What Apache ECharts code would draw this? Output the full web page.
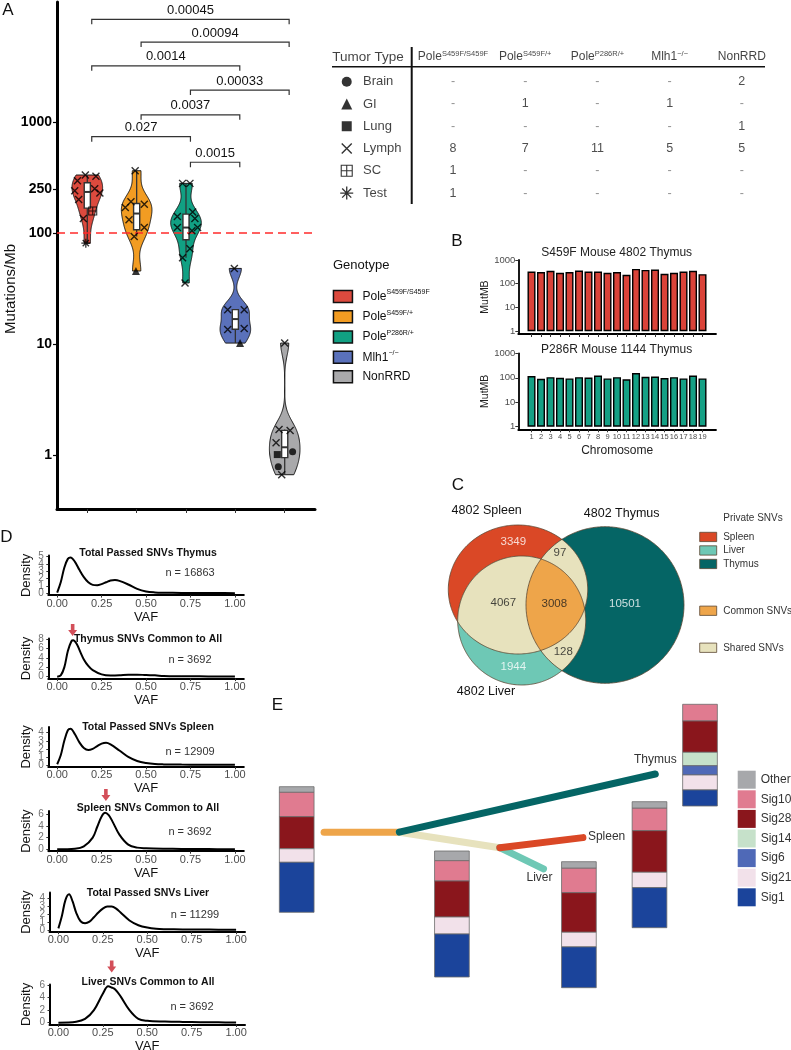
<!DOCTYPE html>
<html>
<head>
<meta charset="utf-8">
<script src="https://cdn.jsdelivr.net/npm/echarts@6/dist/echarts.min.js"></script>
<style>
html,body{margin:0;padding:0;background:#fff;}
#chart{width:791px;height:1050px;}
</style>
</head>
<body>
<div id="chart"></div>
<script>
// ================= DATA =================
// ---- Panel A: mutations per Mb by genotype ----
const genotypes = ['PoleS459F/S459F', 'PoleS459F/+', 'PoleP286R/+', 'Mlh1-/-', 'NonRRD'];
const tumorTypes = ['Brain', 'GI', 'Lung', 'Lymph', 'SC', 'Test'];
const mutPoleSS   = [333, 324, 295, 240, 251, 200, 229, 135, 158, 81];
const typePoleSS  = ['Lymph','Lymph','Lymph','Lymph','Lymph','Lymph','Lymph','Lymph','SC','Test'];
const jitPoleSS   = [-0.04, 0.175, -0.2, -0.255, 0.15, -0.175, 0.255, -0.08, 0.11, -0.03];
const mutPoleSp   = [364, 170, 191, 182, 132, 112, 93, 45.5];
const typePoleSp  = ['Lymph','Lymph','Lymph','Lymph','Lymph','Lymph','Lymph','GI'];
const jitPoleSp   = [-0.03, -0.23, -0.115, 0.155, -0.155, 0.155, -0.05, -0.015];
const mutPolePR   = [280, 280, 141, 155, 135, 112, 112, 105, 72, 60, 35.5];
const typePolePR  = ['Lymph','Lymph','Lymph','Lymph','Lymph','Lymph','Lymph','Lymph','Lymph','Lymph','Lymph'];
const jitPolePR   = [-0.07, 0.08, -0.175, 0.135, 0.18, -0.175, 0.235, 0.12, 0.08, -0.07, -0.02];
const mutMlh1     = [48, 20.4, 20.4, 13.5, 13.8, 10.2];
const typeMlh1    = ['Lymph','Lymph','Lymph','Lymph','Lymph','GI'];
const jitMlh1     = [-0.02, -0.155, 0.18, -0.155, 0.18, 0.095];
const mutNonRRD   = [10.2, 1.70, 1.66, 1.29, 0.665, 1.07, 0.785, 1.01];
const typeNonRRD  = ['Lymph','Lymph','Lymph','Lymph','Lymph','Brain','Brain','Lung'];
const jitNonRRD   = [0, -0.115, 0.11, -0.175, -0.06, 0.16, -0.13, -0.15];
const yTicksA = [1, 10, 100, 250, 1000];
const thresholdA = 100;
const sigPairs   = [[1,5],[2,5],[1,4],[3,5],[2,4],[1,3],[3,4]];
const sigPValues = ['0.00045','0.00094','0.0014','0.00033','0.0037','0.027','0.0015'];
const sigLevels  = [8410, 5250, 3210, 1940, 1160, 738, 434]; // Mutations/Mb height of each bracket

// ---- Tumor type table ----
const tableRows = ['Brain','GI','Lung','Lymph','SC','Test'];
const tableCounts = [
  ['-','-','-','-','2'],
  ['-','1','-','1','-'],
  ['-','-','-','-','1'],
  ['8','7','11','5','5'],
  ['1','-','-','-','-'],
  ['1','-','-','-','-']
];

// ---- Panel B: per-chromosome MutMB ----
const chromosomes = ['1','2','3','4','5','6','7','8','9','10','11','12','13','14','15','16','17','18','19'];
const mutS459F = [326, 309, 348, 287, 309, 359, 326, 326, 287, 309, 237, 422, 383, 395, 261, 287, 326, 348, 253];
const mutP286R = [117, 91, 106, 100, 94, 106, 102, 124, 94, 106, 86, 155, 110, 112, 98, 106, 94, 124, 94];
const yTicksB = [1, 10, 100, 1000];

// ---- Panel C: Venn counts ----
const vennRegionNames  = ['Spleen only','Spleen+Thymus','Spleen+Liver','All three','Thymus only','Liver+Thymus','Liver only'];
const vennRegionCounts = [3349, 97, 4067, 3008, 10501, 128, 1944];

// ---- Panel D: VAF densities ----
const densTitles = ['Total Passed SNVs Thymus','Thymus SNVs Common to All','Total Passed SNVs Spleen','Spleen SNVs Common to All','Total Passed SNVs Liver','Liver SNVs Common to All'];
const densN = [16863, 3692, 12909, 3692, 11299, 3692];
const vafThymusTot = [0,0.02,0.04,0.06,0.075,0.1,0.125,0.15,0.175,0.2,0.225,0.25,0.275,0.3,0.325,0.35,0.4,0.45,0.5,0.55,0.6,0.7,0.8,0.9,1.0];
const denThymusTot = [0.1,1.5,3.5,4.7,4.9,4.3,3.2,2.2,1.5,1.15,1.1,1.25,1.5,1.75,1.8,1.7,1.2,0.6,0.25,0.12,0.08,0.05,0.04,0.03,0.02];
const vafThymusCom = [0,0.02,0.04,0.06,0.08,0.09,0.11,0.13,0.15,0.175,0.2,0.25,0.3,0.35,0.4,0.45,0.5,0.55,0.6,0.7,0.8,0.9,1.0];
const denThymusCom = [0,0.3,2.0,5.5,7.6,7.8,7.0,5.3,3.7,2.3,1.4,0.5,0.25,0.3,0.45,0.45,0.35,0.3,0.15,0.1,0.08,0.06,0.04];
const vafSpleenTot = [0,0.02,0.04,0.06,0.075,0.1,0.125,0.15,0.175,0.2,0.225,0.25,0.275,0.3,0.35,0.4,0.45,0.5,0.55,0.6,0.7,0.8,0.9,1.0];
const denSpleenTot = [0.1,1.2,3.0,4.3,4.5,3.8,2.8,2.1,1.85,2.0,2.35,2.65,2.75,2.55,1.8,1.0,0.5,0.25,0.12,0.08,0.05,0.04,0.03,0.02];
const vafSpleenCom = [0,0.1,0.15,0.2,0.225,0.25,0.27,0.29,0.31,0.35,0.4,0.45,0.5,0.6,0.7,0.8,0.9,1.0];
const denSpleenCom = [0,0.1,0.5,2.0,3.8,5.6,6.2,5.8,4.8,2.5,0.8,0.3,0.2,0.12,0.08,0.05,0.04,0.02];
const vafLiverTot = [0,0.02,0.04,0.06,0.08,0.1,0.125,0.15,0.175,0.2,0.225,0.25,0.275,0.3,0.325,0.35,0.4,0.45,0.5,0.55,0.6,0.7,0.8,0.9,1.0];
const denLiverTot = [0.2,1.8,3.8,4.5,3.6,2.2,1.1,0.85,1.05,1.6,2.2,2.7,2.95,2.95,2.7,2.2,1.2,0.6,0.3,0.15,0.1,0.06,0.05,0.04,0.02];
const vafLiverCom = [0,0.1,0.15,0.2,0.25,0.28,0.3,0.32,0.35,0.4,0.45,0.5,0.6,0.7,0.8,0.9,1.0];
const denLiverCom = [0,0.15,0.6,2.0,4.6,5.8,5.6,5.3,4.2,2.0,0.6,0.3,0.18,0.12,0.08,0.05,0.02];
const densYTicks = [[0,1,2,3,4,5],[0,2,4,6,8],[0,1,2,3,4],[0,2,4,6],[0,1,2,3,4],[0,2,4,6]];
const commonPeakVAF = [null, 0.087, null, 0.274, null, 0.30];

// ---- Panel E: phylogeny + signatures ----
const branchNames  = ['Common','Thymus','Shared','Spleen','Liver'];
const branchParent = [-1, 0, 0, 2, 2];
const branchSNVs   = [3008, 10501, 4067, 3349, 1944];
const branchAngle  = [0, -12.8, 8.75, -6.9, 25.9];   // degrees, drawing angle
const sigNames = ['Other','Sig10','Sig28','Sig14','Sig6','Sig21','Sig1'];
const sigOther = [0.045, 0.077, 0.052, 0.052, 0];
const sig10    = [0.194, 0.161, 0.194, 0.178, 0.164];
const sig28    = [0.255, 0.286, 0.314, 0.330, 0.308];
const sig14    = [0, 0, 0, 0, 0.132];
const sig6     = [0, 0, 0, 0, 0.091];
const sig21    = [0.108, 0.135, 0.116, 0.122, 0.147];
const sig1     = [0.398, 0.341, 0.324, 0.318, 0.158];

// ================= STYLE / LAYOUT =================
const FONT = '"Liberation Sans", Arial, Helvetica, sans-serif';
const genoColors = ['#DC4A3E', '#F29C22', '#11A083', '#5A71BB', '#A9A9AB'];
const vennColors = {Spleen:'#DA4826', Liver:'#6EC8B5', Thymus:'#056565', Shared:'#E7E2BD', Common:'#EEA54A'};
const sigColors = ['#A7A8AB', '#E07B90', '#8A161C', '#C6E1CA', '#4F69B7', '#F2E1EA', '#1B449B'];
const branchColors = ['#EEA54A', '#056565', '#E7E2BD', '#DA4826', '#6EC8B5'];

const grids = [], xAxes = [], yAxes = [], series = [], legends = [], graphics = [];
function addGrid(g, xa, ya) {
  grids.push(Object.assign({show:false, containLabel:false, outerBoundsMode:'none'}, g));
  const i = grids.length - 1;
  xAxes.push(Object.assign({gridIndex:i, splitLine:{show:false}, splitArea:{show:false}}, xa));
  yAxes.push(Object.assign({gridIndex:i, splitLine:{show:false}, splitArea:{show:false}}, ya));
  return i;
}
function hiddenAxis(min, max, inverse) { return {type:'value', show:false, min, max, inverse:!!inverse}; }
function txt(x, y, text, size, o) {
  o = o || {};
  const al = o.align || 'center';
  return {type:'text', x, y, rotation:o.rot || 0, silent:true, z:50,
    style:{text, font:(o.bold ? 'bold ' : '') + size + 'px ' + FONT, fill:o.color || '#111',
      align:al, textAlign:al, verticalAlign:'middle', textVerticalAlign:'middle'}};
}
function genoRich(n) {
  if (n.indexOf('Pole') === 0) return '{b|Pole}{s|' + n.slice(4) + '}';
  if (n.indexOf('Mlh1') === 0) return '{b|Mlh1}{s|' + n.slice(4).replace(/-/g, '\u2212') + '}';
  return '{b|' + n + '}';
}
const L10 = v => Math.log10(v);

// symbols for tumor types
const SYM = {
  Brain:{symbol:'circle', size:7, style:{color:'#000'}},
  GI:{symbol:'triangle', size:8, style:{color:'#000'}},
  Lung:{symbol:'rect', size:7, style:{color:'#000'}},
  Lymph:{symbol:'path://M0,0L10,10M10,0L0,10', size:7, style:{color:'rgba(0,0,0,0)', borderColor:'#000', borderWidth:1.4}},
  SC:{symbol:'path://M0,0L10,0L10,10L0,10ZM5,0L5,10M0,5L10,5', size:8, style:{color:'rgba(0,0,0,0)', borderColor:'#000', borderWidth:1.1}},
  Test:{symbol:'path://M5,0L5,10M0,5L10,5M1.5,1.5L8.5,8.5M8.5,1.5L1.5,8.5', size:9, style:{color:'rgba(0,0,0,0)', borderColor:'#000', borderWidth:1.3}}
};

// ================= PANEL A =================
const mutAll = [mutPoleSS, mutPoleSp, mutPolePR, mutMlh1, mutNonRRD];
const typeAll = [typePoleSS, typePoleSp, typePolePR, typeMlh1, typeNonRRD];
const jitAll = [jitPoleSS, jitPoleSp, jitPolePR, jitMlh1, jitNonRRD];

function violinStats(values) {
  const xs = values.map(L10).sort((a, b) => a - b);
  const n = xs.length;
  const mean = xs.reduce((a, b) => a + b, 0) / n;
  const sd = Math.sqrt(xs.reduce((a, b) => a + (b - mean) * (b - mean), 0) / (n - 1));
  const q = p => { const h = (n - 1) * p, lo = Math.floor(h), hi = Math.min(lo + 1, n - 1); return xs[lo] + (h - lo) * (xs[hi] - xs[lo]); };
  const q1 = q(0.25), med = q(0.5), q3 = q(0.75), iqr = q3 - q1;
  let s = Math.min(sd, iqr / 1.34); if (!(s > 0)) s = sd;
  const bw = 0.9 * s * Math.pow(n, -0.2);
  const lo = xs[0], hi = xs[n - 1];
  const curve = []; let dmax = 0; const N = 140;
  for (let i = 0; i <= N; i++) {
    const y = lo + (hi - lo) * i / N; let d = 0;
    xs.forEach(x => { const u = (y - x) / bw; d += Math.exp(-0.5 * u * u); });
    curve.push([y, d]); if (d > dmax) dmax = d;
  }
  curve.forEach(c => { c[1] = c[1] / dmax; });
  const wLo = xs.find(x => x >= q1 - 1.5 * iqr);
  const wHi = xs.slice().reverse().find(x => x <= q3 + 1.5 * iqr);
  return {curve, q1, med, q3, wLo, wHi};
}
const vStats = mutAll.map(violinStats);
const VIOLIN_HALF = 0.31, BOX_HALF = 0.062;

const gA = addGrid({left:57, top:2, width:258, height:507},
  {type:'value', min:0.386, max:5.614,
   axisLine:{show:true, onZero:false, lineStyle:{color:'#000', width:3}},
   axisTick:{show:true, customValues:[1,2,3,4,5], length:4, lineStyle:{color:'#333', width:1}},
   axisLabel:{show:false}},
  {type:'value', min:-0.486, max:4.081,
   axisLine:{show:true, onZero:false, lineStyle:{color:'#000', width:3}},
   axisTick:{show:true, customValues:yTicksA.map(L10), length:4, lineStyle:{color:'#000', width:1.2}},
   axisLabel:{show:true, customValues:yTicksA.map(L10), formatter:v => String(Math.round(Math.pow(10, v))),
     fontSize:14, fontWeight:'bold', color:'#000', margin:5, fontFamily:FONT, hideOverlap:false, showMinLabel:true, showMaxLabel:true}});

genotypes.forEach((name, g) => {
  const st = vStats[g];
  const s = {
    type:'custom', name, xAxisIndex:gA, yAxisIndex:gA, silent:true, z:2,
    itemStyle:{color:genoColors[g]},
    data:[[g + 1, st.med]],
    renderItem:(params, api) => {
      const cx = g + 1;
      const left = [], right = [];
      st.curve.forEach(c => {
        left.push(api.coord([cx - VIOLIN_HALF * c[1], c[0]]));
        right.push(api.coord([cx + VIOLIN_HALF * c[1], c[0]]));
      });
      const poly = left.concat(right.reverse());
      const a = api.coord([cx - BOX_HALF, st.q3]), b = api.coord([cx + BOX_HALF, st.q1]);
      const wt = api.coord([cx, st.wHi]), wb = api.coord([cx, st.wLo]);
      const m1 = api.coord([cx - BOX_HALF, st.med]), m2 = api.coord([cx + BOX_HALF, st.med]);
      return {type:'group', children:[
        {type:'polygon', shape:{points:poly}, style:{fill:genoColors[g], stroke:'#1a1a1a', lineWidth:1}},
        {type:'line', shape:{x1:wt[0], y1:wt[1], x2:wt[0], y2:a[1]}, style:{stroke:'#333', lineWidth:1.3}},
        {type:'line', shape:{x1:wb[0], y1:b[1], x2:wb[0], y2:wb[1]}, style:{stroke:'#333', lineWidth:1.3}},
        {type:'rect', shape:{x:a[0], y:a[1], width:b[0] - a[0], height:b[1] - a[1]}, style:{fill:'#fff', stroke:'#333', lineWidth:1.4}},
        {type:'line', shape:{x1:m1[0], y1:m1[1], x2:m2[0], y2:m2[1]}, style:{stroke:'#333', lineWidth:2}}
      ]};
    }
  };
  if (g === 0) {
    s.markLine = {silent:true, symbol:['none','none'], label:{show:false},
      lineStyle:{color:'#FF2B2B', type:[8,5], width:1.5}, data:[{yAxis:L10(thresholdA)}]};
  }
  series.push(s);
});

tumorTypes.forEach(t => {
  const data = [];
  mutAll.forEach((arr, g) => arr.forEach((v, k) => {
    if (typeAll[g][k] === t) data.push([g + 1 + jitAll[g][k], L10(v)]);
  }));
  if (!data.length) return;
  series.push({type:'scatter', name:t, xAxisIndex:gA, yAxisIndex:gA, silent:true, z:5,
    symbol:SYM[t].symbol, symbolSize:SYM[t].size, itemStyle:SYM[t].style, data});
});

series.push({type:'custom', xAxisIndex:gA, yAxisIndex:gA, silent:true, z:6,
  data:sigPairs.map((p, i) => [p[0], L10(sigLevels[i])]),
  renderItem:(params, api) => {
    const i = params.dataIndex, p = sigPairs[i], h = L10(sigLevels[i]), off = 0.09;
    const p1 = api.coord([p[0] + off, h]), p2 = api.coord([p[1] + off, h]);
    return {type:'group', children:[
      {type:'polyline', shape:{points:[[p1[0], p1[1] + 5], p1, p2, [p2[0], p2[1] + 5]]}, style:{stroke:'#333', lineWidth:1.2, fill:null}},
      {type:'text', x:(p1[0] + p2[0]) / 2, y:p1[1] - 9, style:{text:sigPValues[i], fill:'#111', font:'13px ' + FONT, align:'center', verticalAlign:'middle', textAlign:'center', textVerticalAlign:'middle'}}
    ]};
  }});

graphics.push(txt(8, 10, 'A', 17));
graphics.push(txt(11, 289, 'Mutations/Mb', 15, {rot:Math.PI / 2}));
graphics.push(txt(333, 265, 'Genotype', 13, {align:'left'}));

legends.push({data:genotypes, orient:'vertical', left:332.7, top:289, padding:0, itemWidth:19, itemHeight:12, itemGap:6,
  icon:'rect', selectedMode:false, itemStyle:{borderColor:'#111', borderWidth:1.5},
  formatter:genoRich,
  textStyle:{fontSize:12, color:'#111', padding:[0,0,0,5], rich:{b:{fontSize:12, color:'#111', lineHeight:15, fontFamily:FONT}, s:{fontSize:7, color:'#111', lineHeight:8, verticalAlign:'top', fontFamily:FONT}}}});

// ================= TABLE =================
const gT = addGrid({left:332, top:47, width:433, height:157}, hiddenAxis(-1.676, 4.321), hiddenAxis(-1.556, 5.49, true));
const tRich = {b:{fontSize:12, color:'#111', lineHeight:15, fontFamily:FONT}, s:{fontSize:7.5, color:'#111', lineHeight:8, verticalAlign:'top', fontFamily:FONT}};
const tableText = [];
genotypes.forEach((n, i) => tableText.push({value:[i, -1.108], label:{formatter:genoRich(n), rich:tRich}}));
tableText.push({value:[-1.177, -1.108], label:{formatter:'Tumor Type', fontSize:13.5, color:'#111'}});
tableRows.forEach((r, k) => {
  tableText.push({value:[-1.247, k], label:{formatter:r, align:'left', fontSize:13, color:'#111'}});
  tableCounts[k].forEach((c, i) => tableText.push({value:[i, k], label:{formatter:c, fontSize:12.5, color:c === '-' ? '#777' : '#222'}}));
});
series.push({type:'scatter', xAxisIndex:gT, yAxisIndex:gT, silent:true, symbolSize:1, itemStyle:{color:'rgba(0,0,0,0)'},
  label:{show:true, position:'inside', fontFamily:FONT}, data:tableText});
tableRows.forEach((r, k) => {
  series.push({type:'scatter', xAxisIndex:gT, yAxisIndex:gT, silent:true, symbol:SYM[r].symbol,
    symbolSize:Math.round(SYM[r].size * 1.4), itemStyle:SYM[r].style, data:[[-1.472, k]]});
});
series.push({type:'line', xAxisIndex:gT, yAxisIndex:gT, silent:true, symbol:'none', lineStyle:{color:'#111', width:1.5}, data:[[-1.676, -0.673], [4.321, -0.673]]});
series.push({type:'line', xAxisIndex:gT, yAxisIndex:gT, silent:true, symbol:'none', lineStyle:{color:'#111', width:2}, data:[[-0.572, -1.556], [-0.572, 5.49]]});

// ================= PANEL B =================
function xB(showLabels) {
  return {type:'value', min:-0.39, max:20.42,
    axisLine:{show:true, onZero:false, lineStyle:{color:'#000', width:1.8}},
    axisTick:{show:true, customValues:chromosomes.map((c, i) => i + 1), length:3, lineStyle:{color:'#333', width:1}},
    axisLabel:{show:showLabels, customValues:chromosomes.map((c, i) => i + 1), formatter:v => chromosomes[Math.round(v) - 1],
      fontSize:7.5, color:'#4d4d4d', margin:4, hideOverlap:false, showMinLabel:true, showMaxLabel:true},
    name:showLabels ? 'Chromosome' : '', nameLocation:'middle', nameGap:15, nameTextStyle:{fontSize:12, color:'#222'}};
}
function yB(min) {
  return {type:'value', min, max:3,
    axisLine:{show:true, onZero:false, lineStyle:{color:'#000', width:1.8}},
    axisTick:{show:true, customValues:yTicksB.map(L10), length:3, lineStyle:{color:'#333', width:1}},
    axisLabel:{show:true, customValues:yTicksB.map(L10), formatter:v => String(Math.round(Math.pow(10, v))), fontSize:9.5, color:'#4d4d4d', margin:3, hideOverlap:false, showMinLabel:true, showMaxLabel:true},
    name:'MutMB', nameLocation:'middle', nameGap:22, nameTextStyle:{fontSize:10.5, color:'#222'}};
}
const gB1 = addGrid({left:518.3, top:260, width:197.7, height:74}, xB(false), yB(-0.12));
const gB2 = addGrid({left:518.3, top:353.3, width:197.7, height:76}, xB(true), yB(-0.106));
series.push({type:'bar', xAxisIndex:gB1, yAxisIndex:gB1, silent:true, barWidth:8,
  itemStyle:{color:'#DA4339', borderColor:'#000', borderWidth:1.4}, data:mutS459F.map((v, i) => [i + 1, L10(v)])});
series.push({type:'bar', xAxisIndex:gB2, yAxisIndex:gB2, silent:true, barWidth:8,
  itemStyle:{color:'#15A085', borderColor:'#000', borderWidth:1.4}, data:mutP286R.map((v, i) => [i + 1, L10(v)])});
graphics.push(txt(457, 241, 'B', 17));
graphics.push(txt(616.7, 253, 'S459F Mouse 4802 Thymus', 12, {color:'#222'}));
graphics.push(txt(616.7, 349.3, 'P286R Mouse 1144 Thymus', 12, {color:'#222'}));

// ================= PANEL C (Venn) =================
const gC = addGrid({left:420, top:480, width:300, height:230}, hiddenAxis(0, 30), hiddenAxis(0, 23, true));
const vennShape = {
  Spleen:{cx:9.8, cy:10.95, rx:6.97, ry:6.45},
  Liver:{cx:10.17, cy:14.05, rx:6.4, ry:6.45},
  Thymus:{cx:18.5, cy:12.5, rx:7.9, ry:7.83}
};
function ellPts(e, n) { const a = []; for (let i = 0; i < n; i++) { const t = 2 * Math.PI * i / n; a.push([e.cx + e.rx * Math.cos(t), e.cy + e.ry * Math.sin(t)]); } return a; }
function inEll(e, p) { const dx = (p[0] - e.cx) / e.rx, dy = (p[1] - e.cy) / e.ry; return dx * dx + dy * dy <= 1.000001; }
function interPoly(list) {
  const pts = [];
  list.forEach((e, k) => ellPts(e, 1440).forEach(p => { if (list.every((o, j) => j === k || inEll(o, p))) pts.push(p); }));
  const c = [0, 0]; pts.forEach(p => { c[0] += p[0]; c[1] += p[1]; }); c[0] /= pts.length; c[1] /= pts.length;
  pts.sort((a, b) => Math.atan2(a[1] - c[1], a[0] - c[0]) - Math.atan2(b[1] - c[1], b[0] - c[0]));
  return pts;
}
const S = vennShape.Spleen, Lv = vennShape.Liver, T = vennShape.Thymus;
const vennLayers = [
  {name:'Spleen', color:vennColors.Spleen, polys:[ellPts(S, 360)]},
  {name:'Liver', color:vennColors.Liver, polys:[ellPts(Lv, 360)]},
  {name:'Thymus', color:vennColors.Thymus, polys:[ellPts(T, 360)]},
  {name:'Shared SNVs', color:vennColors.Shared, polys:[interPoly([S, Lv]), interPoly([S, T]), interPoly([Lv, T])]},
  {name:'Common SNVs', color:vennColors.Common, polys:[interPoly([S, Lv, T])]}
];
vennLayers.forEach((ly, li) => {
  series.push({type:'custom', name:ly.name, xAxisIndex:gC, yAxisIndex:gC, silent:true, z:2 + li,
    itemStyle:{color:ly.color}, data:[[0, 0]],
    renderItem:(params, api) => ({type:'group', children:ly.polys.map(pl => ({type:'polygon',
      shape:{points:pl.map(p => api.coord(p))}, style:{fill:ly.color}}))})});
});
series.push({type:'custom', xAxisIndex:gC, yAxisIndex:gC, silent:true, z:8, data:[[0, 0]],
  renderItem:(params, api) => ({type:'group', children:[S, Lv, T].map(e => ({type:'polygon',
    shape:{points:ellPts(e, 360).map(p => api.coord(p))}, style:{fill:null, stroke:'#5b4632', lineWidth:0.8}}))})});
const vennLabelPos = [[9.33, 6.17], [14.0, 7.27], [8.33, 12.33], [13.43, 12.4], [20.5, 12.4], [14.33, 17.17], [9.33, 18.67]];
const vennLabelWhite = [true, false, false, false, true, false, true];
series.push({type:'scatter', xAxisIndex:gC, yAxisIndex:gC, silent:true, z:9, symbolSize:1, itemStyle:{color:'rgba(0,0,0,0)'},
  label:{show:true, position:'inside', fontSize:11.5, fontFamily:FONT},
  data:vennRegionCounts.map((c, i) => ({value:vennLabelPos[i], label:{formatter:String(c), color:vennLabelWhite[i] ? '#fff' : '#1a1a1a'}}))});
graphics.push(txt(458, 485, 'C', 17));
graphics.push(txt(486.7, 510.7, '4802 Spleen', 12.5));
graphics.push(txt(621.7, 513.3, '4802 Thymus', 12.5));
graphics.push(txt(486, 691.7, '4802 Liver', 12.5));
graphics.push(txt(723.3, 518.3, 'Private SNVs', 10, {align:'left', color:'#333'}));
const vennLegendBase = {orient:'vertical', left:699.3, padding:0, itemWidth:17, itemHeight:9.3, itemGap:3, icon:'rect', selectedMode:false,
  itemStyle:{borderColor:'#5b4632', borderWidth:0.8}, textStyle:{fontSize:10, color:'#333', lineHeight:10.5, padding:[0,0,0,1.5]}};
legends.push(Object.assign({}, vennLegendBase, {data:['Spleen','Liver','Thymus'], top:531.7}));
legends.push(Object.assign({}, vennLegendBase, {data:['Common SNVs'], top:605.5}));
legends.push(Object.assign({}, vennLegendBase, {data:['Shared SNVs'], top:642.5}));

// ================= PANEL D =================
const densVAF = [vafThymusTot, vafThymusCom, vafSpleenTot, vafSpleenCom, vafLiverTot, vafLiverCom];
const densVal = [denThymusTot, denThymusCom, denSpleenTot, denSpleenCom, denLiverTot, denLiverCom];
const densLayout = [
  {top:555.6, h:39.5, ymin:-0.25, ymax:5.15, left:48.3, title:553.3, nx:190, ny:573.3, arrowY:0},
  {top:638.4, h:40.2, ymin:-0.4, ymax:8.2, left:48.3, title:639.3, nx:190, ny:660, arrowY:10.0},
  {top:726.9, h:39.9, ymin:-0.22, ymax:4.72, left:48.3, title:726.7, nx:190, ny:751.7, arrowY:0},
  {top:811.1, h:40.1, ymin:-0.31, ymax:6.5, left:48.3, title:808.3, nx:190, ny:831.7, arrowY:9.24},
  {top:892.6, h:39.1, ymin:-0.22, ymax:4.72, left:49.5, title:893.3, nx:195, ny:915, arrowY:0},
  {top:984.4, h:40.1, ymin:-0.29, ymax:6.1, left:49.5, title:981.7, nx:192, ny:1006.7, arrowY:8.95}
];
const vafTicks = [0, 0.25, 0.5, 0.75, 1];
densLayout.forEach((L, i) => {
  const gi = addGrid({left:L.left, top:L.top, width:195.5, height:L.h},
    {type:'value', min:-0.05, max:1.05,
     axisLine:{show:true, onZero:false, lineStyle:{color:'#000', width:2}},
     axisTick:{show:true, customValues:vafTicks, length:2.5, lineStyle:{color:'#333', width:1}},
     axisLabel:{show:true, customValues:vafTicks, formatter:v => v.toFixed(2), fontSize:11, color:'#4d4d4d', margin:3, hideOverlap:false, showMinLabel:true, showMaxLabel:true},
     name:'VAF', nameLocation:'middle', nameGap:15.5, nameTextStyle:{fontSize:13, color:'#111'}},
    {type:'value', min:L.ymin, max:L.ymax,
     axisLine:{show:true, onZero:false, lineStyle:{color:'#000', width:2}},
     axisTick:{show:true, customValues:densYTicks[i], length:2, lineStyle:{color:'#333', width:1}},
     axisLabel:{show:false}});
  // y tick labels (drawn as labels on the axis scale so overlapping ones all stay visible)
  series.push({type:'scatter', xAxisIndex:gi, yAxisIndex:gi, silent:true, clip:false, symbolSize:1,
    itemStyle:{color:'rgba(0,0,0,0)'}, data:densYTicks[i].map(t => [-0.05, t]),
    label:{show:true, position:'left', distance:4, formatter:p => String(p.value[1]), fontSize:10, color:'#4d4d4d', fontFamily:FONT}});
  series.push({type:'line', xAxisIndex:gi, yAxisIndex:gi, silent:true, smooth:0.35, symbol:'none', showSymbol:false,
    lineStyle:{color:'#000', width:2}, data:densVAF[i].map((x, k) => [x, densVal[i][k]]), z:3});
  if (commonPeakVAF[i] !== null) {
    series.push({type:'scatter', xAxisIndex:gi, yAxisIndex:gi, silent:true, clip:false, z:6,
      symbol:'path://M3,0L7,0L7,6L10,6L5,12L0,6L3,6Z', symbolSize:[9, 12], itemStyle:{color:'#C8232F'},
      data:[[commonPeakVAF[i], L.arrowY]]});
  }
  graphics.push(txt(148, L.title, densTitles[i], 10.5, {bold:true}));
  graphics.push(txt(L.nx, L.ny, 'n = ' + densN[i], 11, {color:'#333'}));
  graphics.push(txt(26.7, L.top + L.h / 2, 'Density', 13, {rot:Math.PI / 2}));
});
graphics.push(txt(6.5, 537, 'D', 17));

// ================= PANEL E =================
const gE = addGrid({left:270, top:690, width:500, height:250}, hiddenAxis(0, 20), hiddenAxis(0, 10, true));
const treeRoot = [2.164, 5.688];   // layout anchor (units of 1000 SNVs)
const nodeEnd = [];
branchSNVs.forEach((n, i) => {
  const start = branchParent[i] < 0 ? treeRoot : nodeEnd[branchParent[i]];
  const a = branchAngle[i] * Math.PI / 180, len = n / 1000;
  nodeEnd[i] = [start[0] + len * Math.cos(a), start[1] + len * Math.sin(a)];
});
const drawOrder = [0, 2, 4, 3, 1];
const branchLabel = {Thymus:{dx:0, dy:-14, align:'center'}, Spleen:{dx:5, dy:-1, align:'left'}, Liver:{dx:-4, dy:9, align:'center'}};
series.push({type:'custom', xAxisIndex:gE, yAxisIndex:gE, silent:true, z:4,
  data:drawOrder.map(i => nodeEnd[i]),
  renderItem:(params, api) => {
    const i = drawOrder[params.dataIndex];
    const start = branchParent[i] < 0 ? treeRoot : nodeEnd[branchParent[i]];
    const p0 = api.coord(start), p1 = api.coord(nodeEnd[i]);
    const ch = [{type:'line', shape:{x1:p0[0], y1:p0[1], x2:p1[0], y2:p1[1]}, style:{stroke:branchColors[i], lineWidth:7, lineCap:'round'}}];
    const lb = branchLabel[branchNames[i]];
    if (lb) ch.push({type:'text', x:p1[0] + lb.dx, y:p1[1] + lb.dy, style:{text:branchNames[i], fill:'#333', font:'12px ' + FONT,
      align:lb.align, textAlign:lb.align, verticalAlign:'middle', textVerticalAlign:'middle'}});
    return {type:'group', children:ch};
  }});
const sigFracs = [sigOther, sig10, sig28, sig14, sig6, sig21, sig1];
const barLayout = [
  {cx:1.068, top:3.868, h:5.024}, {cx:7.276, top:6.44, h:5.04}, {cx:12.356, top:6.868, h:5.04},
  {cx:15.18, top:4.468, h:5.04}, {cx:17.2, top:0.572, h:4.068}
];
const BAR_W = 1.388;
sigNames.forEach((s, si) => {
  series.push({type:'custom', name:s, xAxisIndex:gE, yAxisIndex:gE, silent:true, z:3,
    itemStyle:{color:sigColors[si]}, data:barLayout.map(b => [b.cx, b.top]),
    renderItem:(params, api) => {
      const bi = params.dataIndex, fr = sigFracs[si][bi];
      if (!fr) return null;
      let above = 0; for (let k = 0; k < si; k++) above += sigFracs[k][bi];
      const b = barLayout[bi];
      const y0 = b.top + above * b.h, y1 = y0 + fr * b.h;
      const p0 = api.coord([b.cx - BAR_W / 2, y0]), p1 = api.coord([b.cx + BAR_W / 2, y1]);
      return {type:'rect', shape:{x:p0[0], y:p0[1], width:p1[0] - p0[0], height:p1[1] - p0[1]},
        style:{fill:sigColors[si], stroke:'#6b6b6b', lineWidth:0.8}};
    }});
});
legends.push({data:sigNames, orient:'vertical', left:737.7, top:770.7, padding:0, itemWidth:18, itemHeight:18, itemGap:1.6,
  icon:'rect', selectedMode:false, itemStyle:{borderWidth:0}, textStyle:{fontSize:12, color:'#333'}});
graphics.push(txt(277.3, 705, 'E', 17));

// ================= RENDER =================
const chart = echarts.init(document.getElementById('chart'), null, {renderer:'canvas', width:791, height:1050});
chart.setOption({
  animation:false,
  backgroundColor:'#fff',
  textStyle:{fontFamily:FONT},
  grid:grids, xAxis:xAxes, yAxis:yAxes,
  legend:legends,
  series,
  graphic:{elements:graphics}
});
</script>
</body>
</html>
